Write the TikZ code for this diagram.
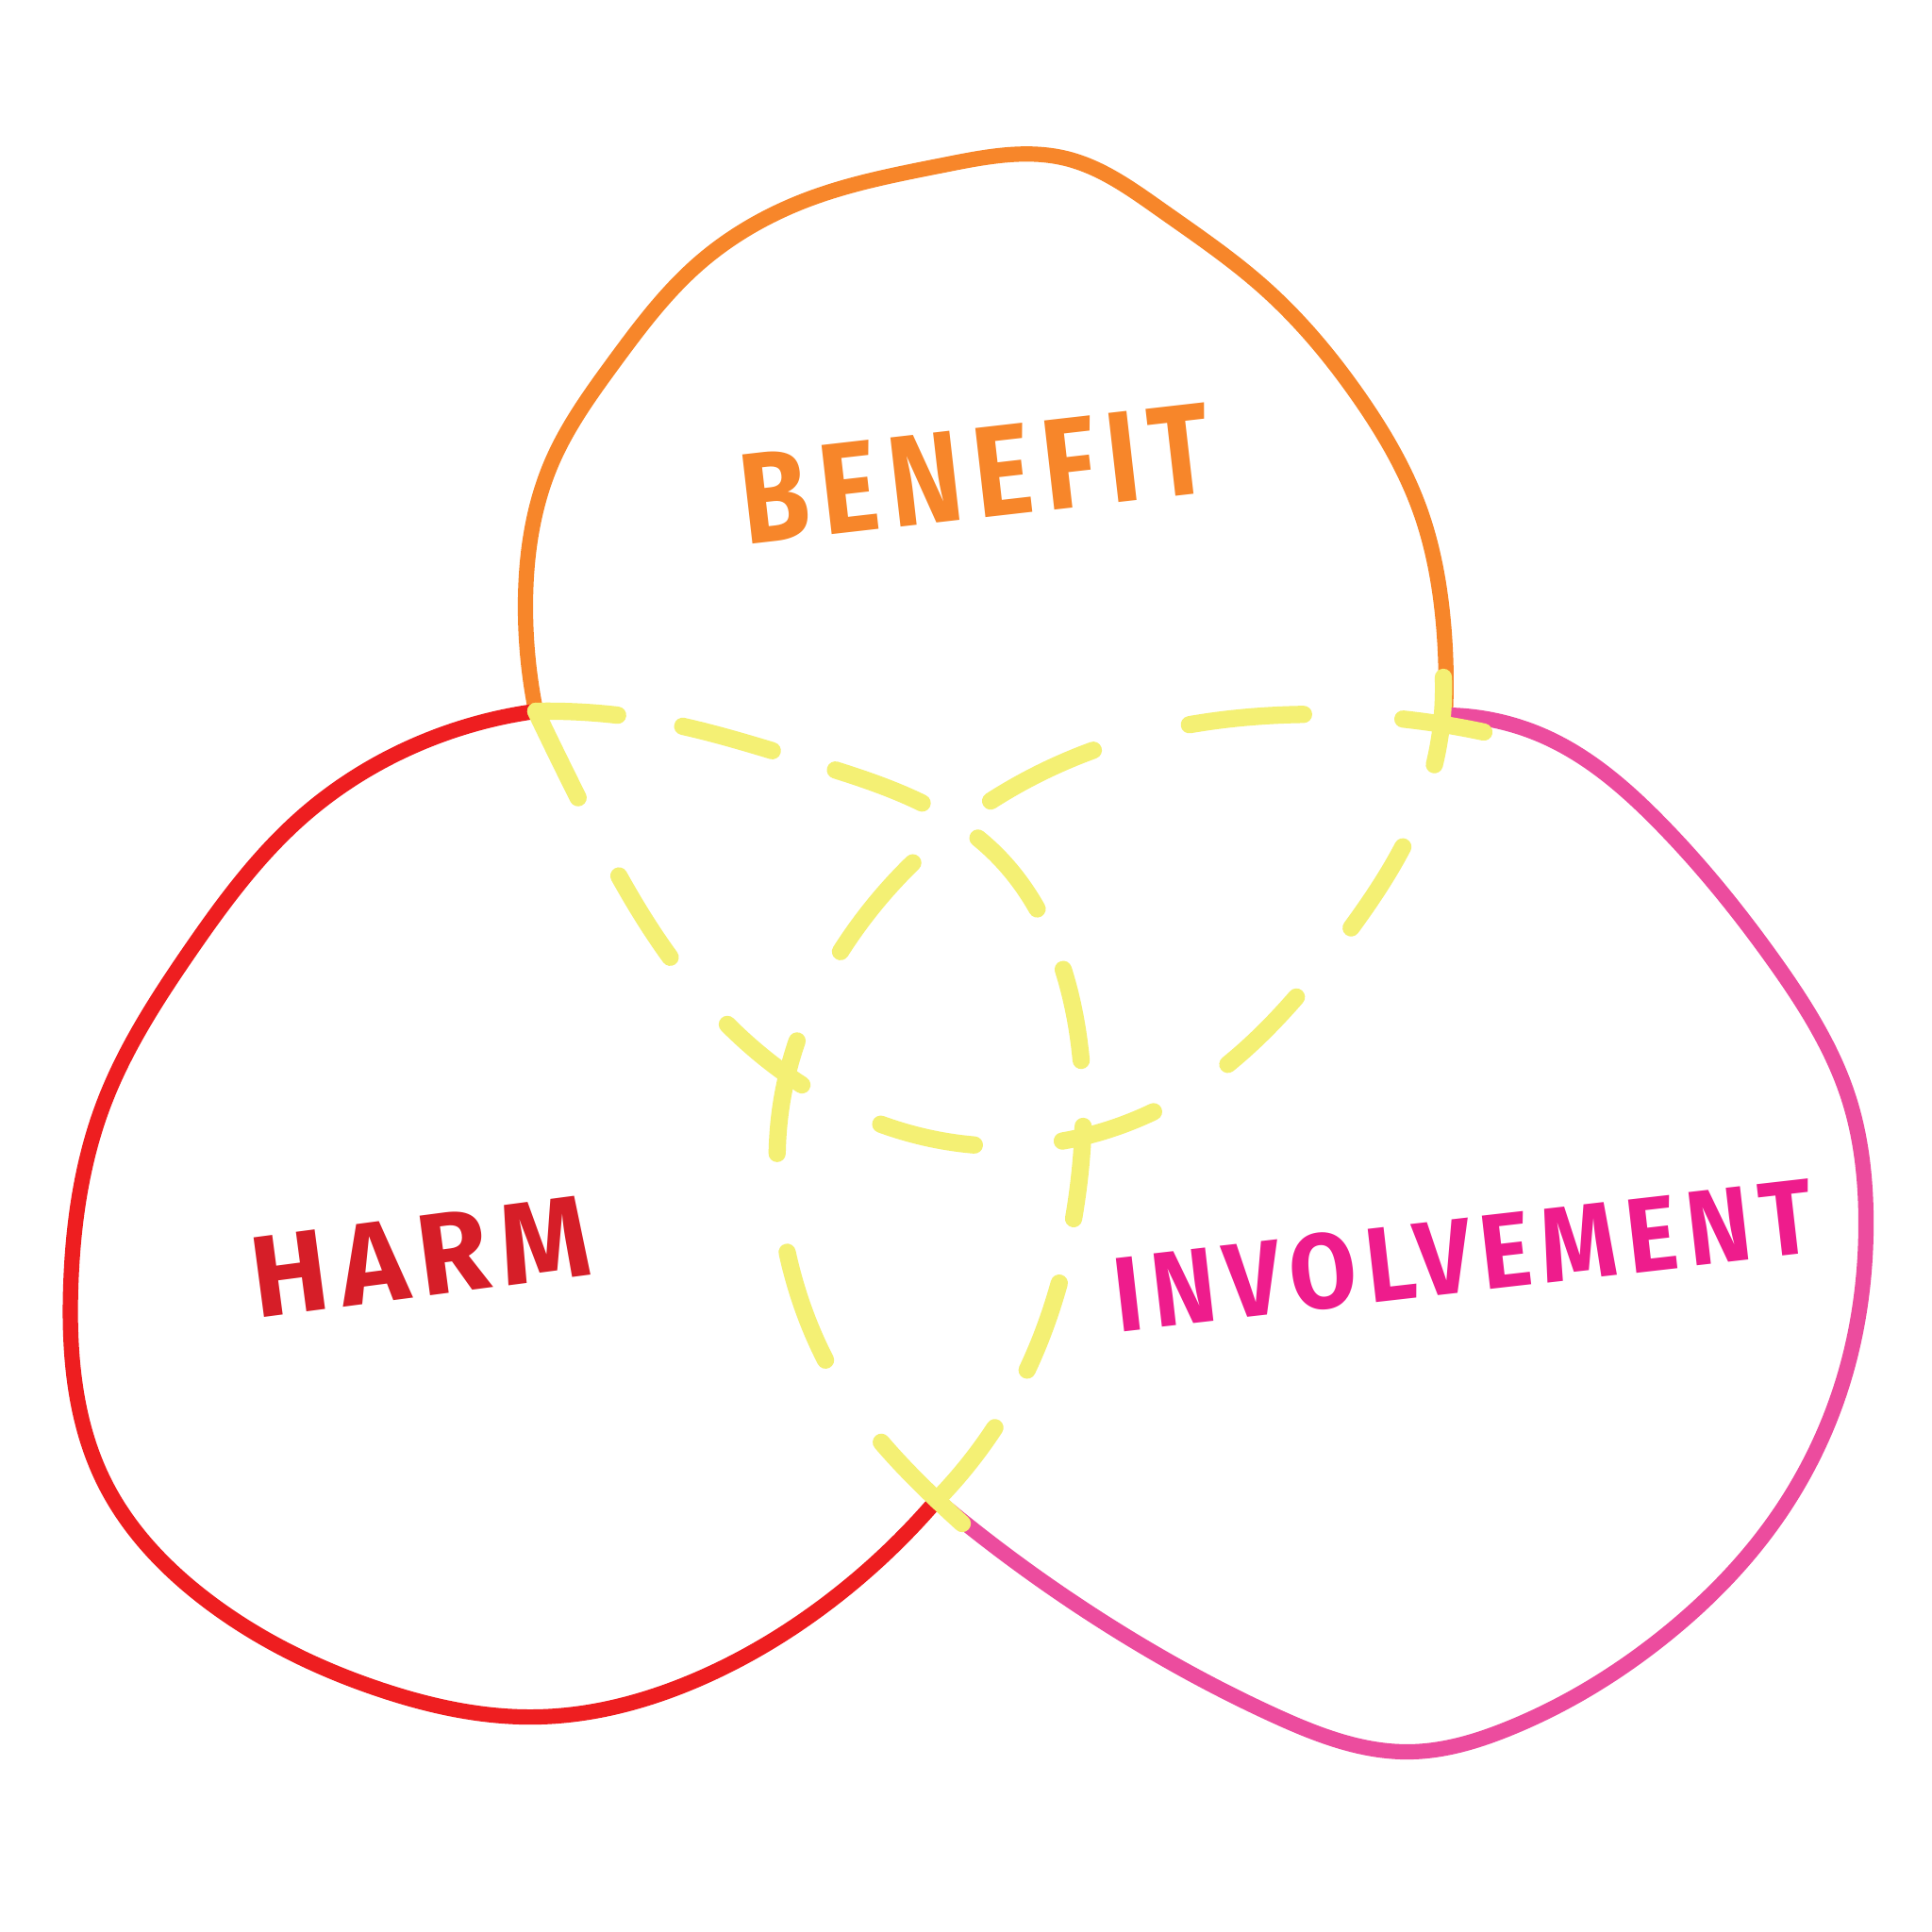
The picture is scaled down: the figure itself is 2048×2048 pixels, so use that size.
\documentclass[tikz,border=0pt]{standalone}
\usepackage{fontspec}
\newfontfamily\handfont[LetterSpace=10]{Fira Sans}
\usetikzlibrary{hobby}
\definecolor{benefitorange}{RGB}{247,134,42}
\definecolor{harmred}{RGB}{238,30,32}
\definecolor{harmtext}{RGB}{214,30,40}
\definecolor{involvepink}{RGB}{236,76,158}
\definecolor{involvetext}{RGB}{238,28,140}
\definecolor{overlapyellow}{RGB}{244,240,116}

\begin{document}
\begin{tikzpicture}[
  x=0.01cm, y=-0.01cm,
  outline/.style={line width=4.6pt, line cap=round, line join=round, use Hobby shortcut},
  benefitline/.style={outline, draw=benefitorange},
  harmline/.style={outline, draw=harmred},
  involveline/.style={outline, draw=involvepink},
  overlapline/.style={line width=5.2pt, line cap=round, draw=overlapyellow, use Hobby shortcut},
  tag/.style={font=\handfont\bfseries, inner sep=0pt}
]
  \fill[white] (0,0) rectangle (2048,2048);

  % where the circles cross
  \coordinate (bh) at (568,754);
  \coordinate (bi) at (1532,758);
  \coordinate (hi) at (993,1590);

  % outer arcs
  \draw[benefitline] (bh) .. (557,640) .. (585,490) .. (650,385) .. (740,280) .. (860,210) .. (1000,175) .. (1130,168) .. (1230,222) .. (1340,305) .. (1440,420) .. (1505,540) .. (1530,660) .. (bi);
  \draw[harmline] (bh) .. (440,790) .. (320,866) .. (200,1010) .. (110,1170) .. (75,1364) .. (110,1570) .. (220,1697) .. (400,1790) .. (570,1820) .. (740,1780) .. (880,1697) .. (hi);
  \draw[involveline] (bi) .. (1640,782) .. (1760,873) .. (1880,1018) .. (1960,1165) .. (1978,1290) .. (1955,1460) .. (1886,1605) .. (1762,1736) .. (1600,1832) .. (1494,1857) .. (1350,1818) .. (1155,1710) .. (hi);

  % overlapping arcs
  \draw[overlapline, dash pattern=on 29pt off 26.6pt] (bh) .. (615,850) .. (700,1000) .. (850,1150) .. (1060,1215) .. (1260,1158) .. (1420,1000) .. (1512,840) .. (1530,718);
  \draw[overlapline, dash pattern=on 28pt off 19.9pt] (hi) .. (1080,1470) .. (1140,1280) .. (1140,1080) .. (1050,900) .. (849,805) .. (700,765) .. (bh);
  \draw[overlapline, dash pattern=on 34.6pt off 30pt] (1020,1615) .. (hi) .. (898,1481) .. (835,1330) .. (830,1160) .. (900,995) .. (1031,862) .. (1200,782) .. (1357,758) .. (1573,776);

  % labels
  \node[tag, text=benefitorange, rotate=6.5] (benefit) at (1034,502) {\resizebox{5.0cm}{0.95cm}{BENEFIT}};
  \node[tag, text=harmtext, rotate=7.5] (harm) at (446,1332) {\resizebox{3.6cm}{0.85cm}{HARM}};
  \node[tag, text=involvetext, rotate=6.5] (involvement) at (1551,1331) {\resizebox{7.45cm}{0.8cm}{INVOLVEMENT}};
\end{tikzpicture}
\end{document}
